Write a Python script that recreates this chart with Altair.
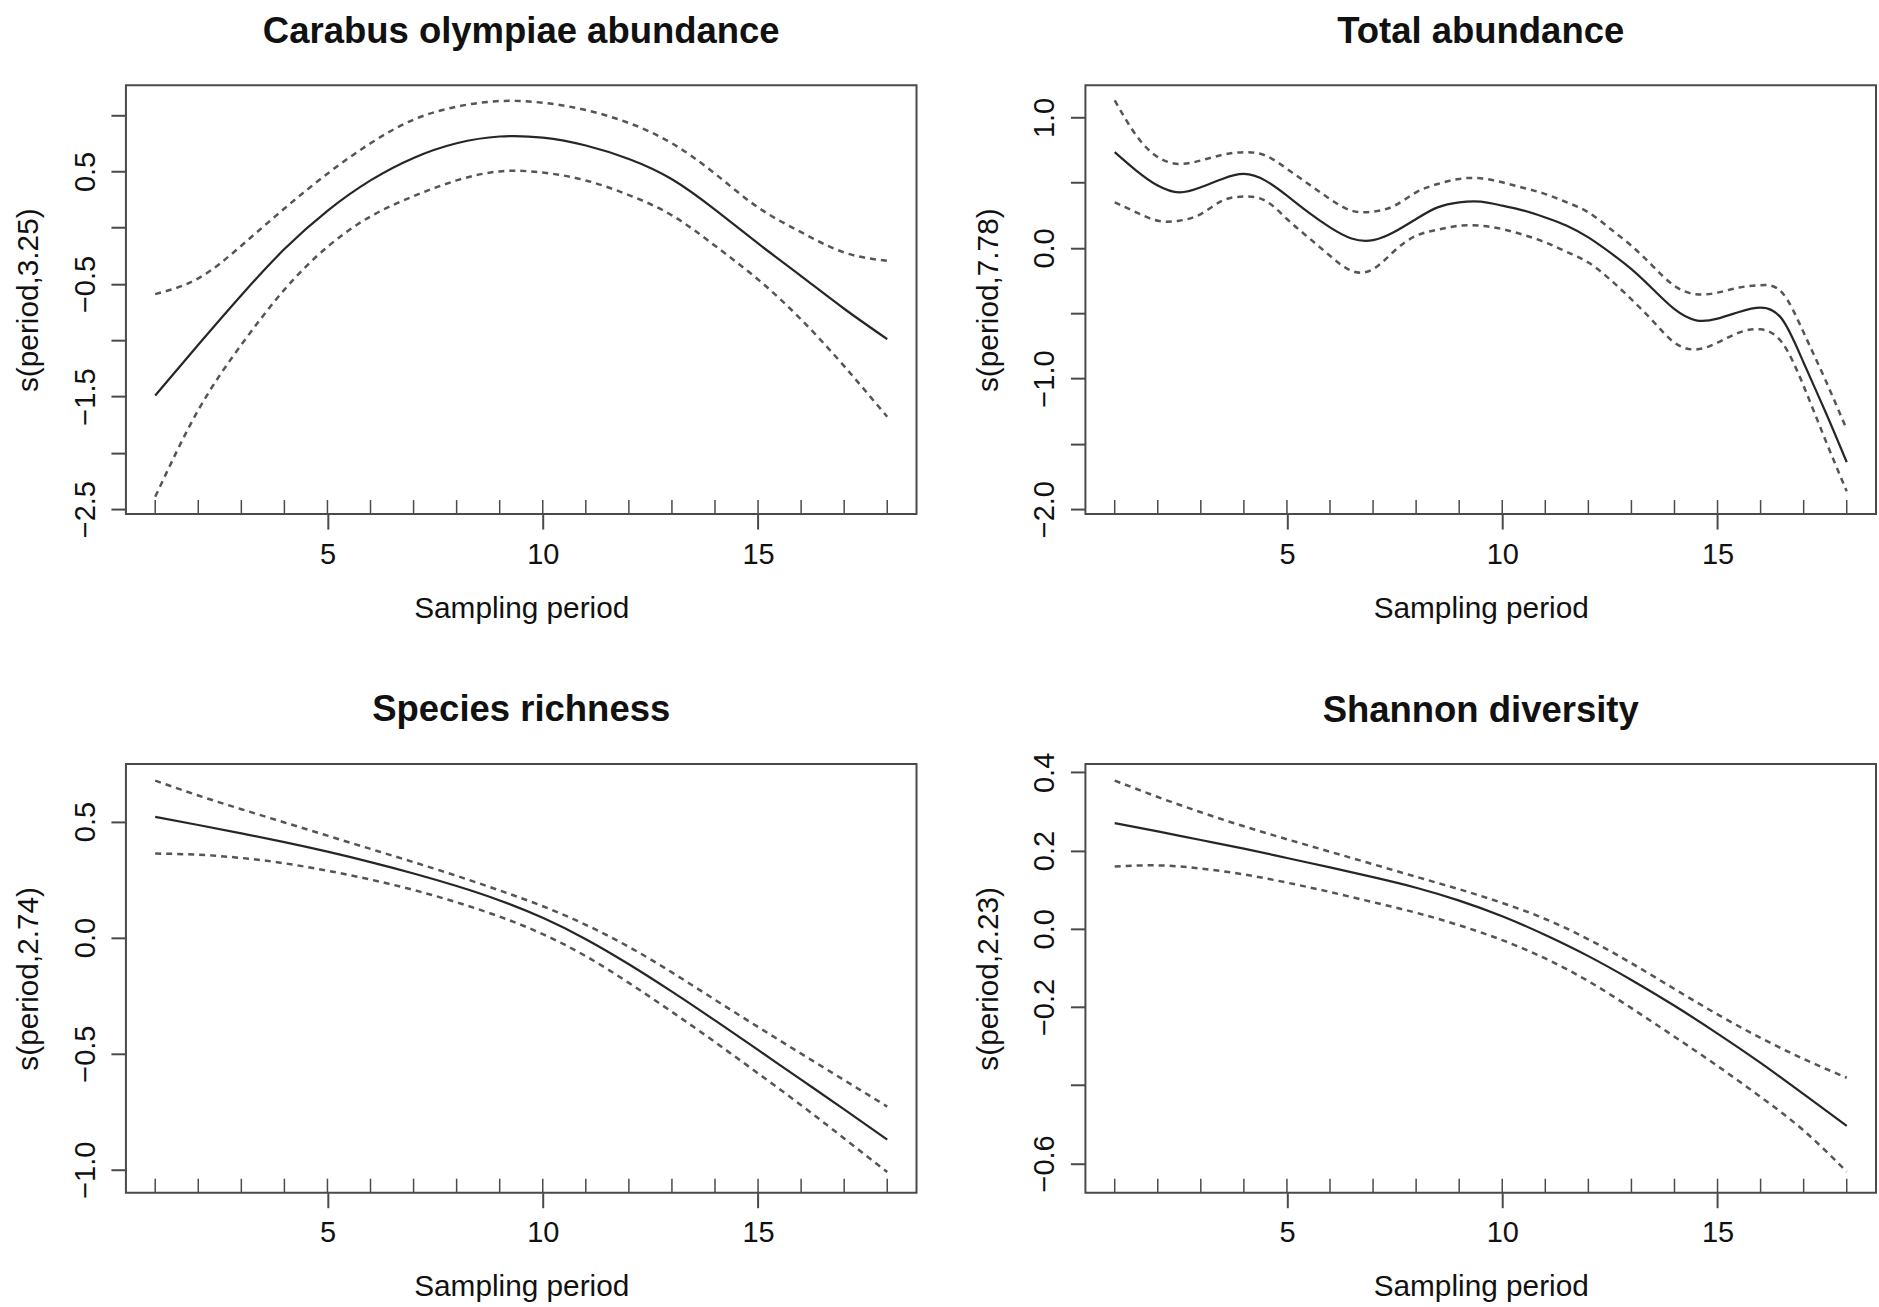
import altair as alt
import pandas as pd

FONT = "Liberation Sans"
INK = "#111111"
FIT_COLOR = "#262626"
BAND_COLOR = "#555555"
FRAME = "#4a4a4a"

PLOT_W = 791
PLOT_H = 429
X_DOMAIN = [0.32, 18.68]
X_TICKS = [5, 10, 15]
RUG_LEN = 14

# sampling periods (rug) and evaluation grids
rug_periods = [1, 2, 3, 4, 5, 6, 7, 8, 9, 10, 11, 12, 13, 14, 15, 16, 17, 18]
periods = [1, 2, 3, 4, 5, 6, 7, 8, 9, 10, 11, 12, 13, 14, 15, 16, 17, 18]
half_periods = [1, 1.5, 2, 2.5, 3, 3.5, 4, 4.5, 5, 5.5, 6, 6.5, 7, 7.5, 8, 8.5, 9, 9.5,
                10, 10.5, 11, 11.5, 12, 12.5, 13, 13.5, 14, 14.5, 15, 15.5, 16, 16.5, 17, 17.5, 18]

# Carabus olympiae abundance, s(period,3.25)
carabus_fit = [-1.49, -1.04, -0.60, -0.19, 0.15, 0.42, 0.62, 0.75, 0.81, 0.80, 0.73, 0.61,
               0.43, 0.16, -0.14, -0.43, -0.72, -0.99]
carabus_upper = [-0.59, -0.45, -0.16, 0.17, 0.48, 0.75, 0.96, 1.075, 1.125, 1.11, 1.045, 0.93,
                 0.75, 0.48, 0.18, -0.04, -0.22, -0.295]
carabus_lower = [-2.39, -1.62, -1.04, -0.55, -0.17, 0.10, 0.28, 0.42, 0.50, 0.49, 0.42, 0.29,
                 0.11, -0.16, -0.46, -0.815, -1.23, -1.68]

# Total abundance, s(period,7.78)
total_fit = [0.734, 0.593, 0.478, 0.426, 0.465, 0.529, 0.567, 0.516, 0.401, 0.273, 0.158, 0.073,
             0.060, 0.124, 0.222, 0.311, 0.350, 0.355, 0.324, 0.286, 0.234, 0.171, 0.081, -0.034,
             -0.162, -0.316, -0.469, -0.554, -0.541, -0.490, -0.457, -0.546, -0.879, -1.25, -1.64]
total_upper = [1.13, 0.862, 0.696, 0.644, 0.670, 0.713, 0.734, 0.708, 0.606, 0.49, 0.375, 0.286,
               0.278, 0.324, 0.426, 0.49, 0.529, 0.534, 0.503, 0.46, 0.413, 0.35, 0.273, 0.15,
               0.017, -0.14, -0.29, -0.354, -0.342, -0.303, -0.285, -0.342, -0.648, -1.007, -1.39]
total_lower = [0.35, 0.273, 0.209, 0.209, 0.260, 0.362, 0.394, 0.362, 0.222, 0.08, -0.06, -0.175,
               -0.162, -0.021, 0.094, 0.14, 0.171, 0.171, 0.145, 0.10, 0.043, -0.03, -0.111, -0.24,
               -0.393, -0.56, -0.725, -0.777, -0.725, -0.648, -0.623, -0.725, -1.058, -1.467, -1.864]

# Species richness, s(period,2.74)
rich_fit = [0.520, 0.485, 0.449, 0.411, 0.370, 0.325, 0.276, 0.222, 0.160, 0.085, -0.007, -0.115,
            -0.233, -0.357, -0.484, -0.612, -0.740, -0.870]
rich_upper = [0.676, 0.612, 0.553, 0.496, 0.439, 0.382, 0.325, 0.266, 0.203, 0.135, 0.055, -0.040,
              -0.150, -0.268, -0.385, -0.500, -0.614, -0.728]
rich_lower = [0.362, 0.357, 0.343, 0.320, 0.288, 0.250, 0.205, 0.152, 0.090, 0.015, -0.080, -0.195,
              -0.320, -0.450, -0.585, -0.722, -0.865, -1.010]

# Shannon diversity, s(period,2.23)
shannon_fit = [0.270, 0.249, 0.227, 0.205, 0.181, 0.157, 0.132, 0.105, 0.072, 0.032, -0.016, -0.070,
               -0.131, -0.197, -0.268, -0.343, -0.423, -0.504]
shannon_upper = [0.379, 0.337, 0.298, 0.262, 0.229, 0.197, 0.165, 0.133, 0.101, 0.066, 0.025, -0.027,
                 -0.088, -0.154, -0.219, -0.279, -0.333, -0.381]
shannon_lower = [0.159, 0.162, 0.154, 0.139, 0.118, 0.094, 0.068, 0.041, 0.009, -0.029, -0.076, -0.134,
                 -0.203, -0.276, -0.351, -0.430, -0.516, -0.621]


def panel(title, ylab, x, fit, upper, lower, ydomain, yticks, ylabelled, title_dy=0):
    curves = pd.DataFrame({"period": x, "fit": fit, "upper": upper, "lower": lower})
    rug = pd.DataFrame({"period": rug_periods})
    shown = ", ".join(str(v) for v in ylabelled)
    label_expr = (
        f"indexof([{shown}], datum.value) >= 0 ? "
        "replace(format(datum.value, '.1f'), '-', '\u2212') : ''"
    )
    x_enc = alt.X(
        "period:Q",
        scale=alt.Scale(domain=X_DOMAIN, nice=False, zero=False),
        axis=alt.Axis(values=X_TICKS, format="d", title="Sampling period",
                      labelPadding=11, labelFlush=False,
                      titleBaseline="alphabetic", titleY=103),
    )
    y_scale = alt.Scale(domain=ydomain, nice=False, zero=False)
    y_axis = alt.Axis(values=yticks, title=ylab, labelAngle=270, labelAlign="center",
                      labelBaseline="alphabetic", labelPadding=16.5, labelOverlap=False,
                      labelExpr=label_expr, titleAngle=270, titleBaseline="alphabetic",
                      titleAlign="center", titleX=-88, titleY=PLOT_H / 2)

    base = alt.Chart(curves).encode(x=x_enc)
    fit_line = base.mark_line(color=FIT_COLOR, strokeWidth=2.2, interpolate="natural").encode(
        y=alt.Y("fit:Q", scale=y_scale, axis=y_axis))
    upper_line = base.mark_line(color=BAND_COLOR, strokeWidth=2.5, strokeDash=[6, 5],
                                interpolate="natural").encode(
        y=alt.Y("upper:Q", scale=y_scale, axis=y_axis))
    lower_line = base.mark_line(color=BAND_COLOR, strokeWidth=2.5, strokeDash=[6, 5],
                                interpolate="natural").encode(
        y=alt.Y("lower:Q", scale=y_scale, axis=y_axis))
    rug_ticks = alt.Chart(rug).mark_rule(color=FRAME, strokeWidth=1.5).encode(
        x=x_enc, y=alt.value(PLOT_H), y2=alt.value(PLOT_H - RUG_LEN))

    return alt.layer(fit_line, upper_line, lower_line, rug_ticks).properties(
        width=PLOT_W,
        height=PLOT_H,
        title=alt.TitleParams(title, font=FONT, fontSize=36.5, fontWeight="bold", color=INK,
                              anchor="middle", frame="group", baseline="alphabetic",
                              offset=6, dy=title_dy),
    )


tl = panel("Carabus olympiae abundance", "s(period,3.25)", periods,
           carabus_fit, carabus_upper, carabus_lower,
           [-2.544, 1.265], [-2.5, -2, -1.5, -1, -0.5, 0, 0.5, 1], [0.5, -0.5, -1.5, -2.5])
tr = panel("Total abundance", "s(period,7.78)", half_periods,
           total_fit, total_upper, total_lower,
           [-2.038, 1.246], [-2, -1.5, -1, -0.5, 0, 0.5, 1], [1, 0, -1, -2])
bl = panel("Species richness", "s(period,2.74)", periods,
           rich_fit, rich_upper, rich_lower,
           [-1.099, 0.748], [-1, -0.5, 0, 0.5], [0.5, 0, -0.5, -1])
br = panel("Shannon diversity", "s(period,2.23)", periods,
           shannon_fit, shannon_upper, shannon_lower,
           [-0.675, 0.4215], [-0.6, -0.4, -0.2, 0, 0.2, 0.4], [0.4, 0.2, 0, -0.2, -0.6],
           title_dy=12)

chart = alt.concat(
    tl, tr, bl, br, columns=2, spacing={"row": 250, "column": 169}, bounds="flush"
).properties(
    padding={"left": 13, "top": 12, "right": 2, "bottom": 2},
    background="white",
).configure_view(
    stroke=FRAME, strokeWidth=2
).configure_axis(
    domain=False, grid=False,
    labelFont=FONT, labelFontSize=29, labelColor=INK,
    titleFont=FONT, titleFontSize=29.8, titleFontWeight="normal", titleColor=INK,
    tickColor=FRAME, tickWidth=2, tickSize=15,
)

chart.save("out.html", embed_options={"renderer": "svg", "actions": False})
